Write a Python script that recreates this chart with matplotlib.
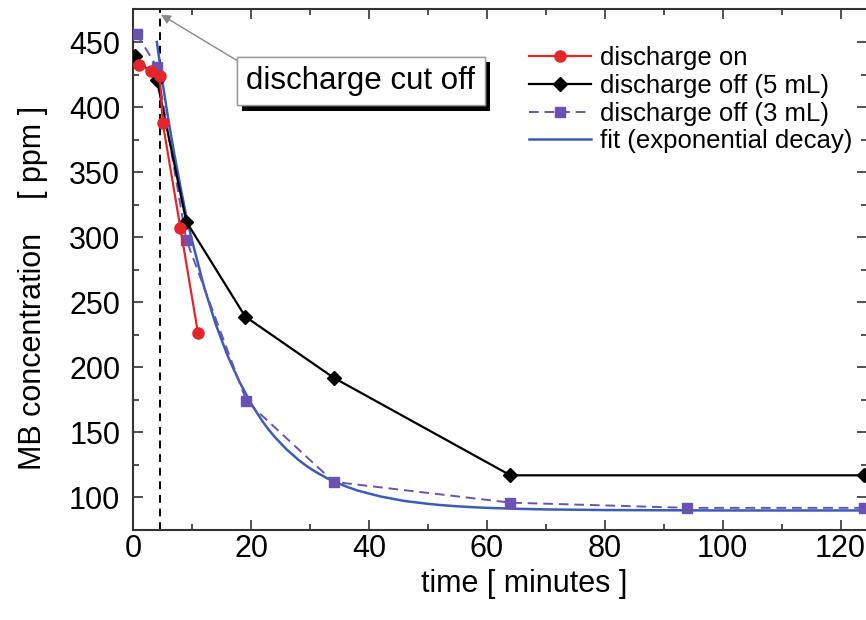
import numpy as np
import matplotlib
matplotlib.use("Agg")
import matplotlib.pyplot as plt
import matplotlib.patheffects as pe
from matplotlib.ticker import MultipleLocator

plt.rcParams["font.family"] = ["Liberation Sans", "DejaVu Sans"]

# dati
t_on = [1, 3, 4.5, 5, 8, 11]
c_on = [432, 428, 424, 388, 307, 226]

t_off5 = [0.3, 4, 9, 19, 34, 64, 124]
c_off5 = [439, 421, 312, 239, 192, 117, 117]

t_off3 = [0.6, 4, 9, 19.2, 34, 64, 94, 124]
c_off3 = [456, 431, 298, 174, 112, 96, 92, 92]

t_fit = [4, 5, 6, 7, 8, 9, 10, 12, 14, 16, 18, 20, 22, 23, 24, 26, 27, 28,
         29, 30, 31, 32, 33, 34, 36, 38, 40, 42, 44, 46, 48, 50, 52, 55,
         58, 60, 65, 70, 80, 100, 124]
c_fit = [450, 418, 389, 363, 339, 316, 297, 262, 233, 209, 189, 172, 158,
         152, 146.5, 137, 133, 129, 125.5, 122.4, 119.5, 117, 114.5, 112.4,
         108.6, 105.4, 103, 100.7, 99, 97.3, 96.2, 95.1, 94.2, 93.2, 92.4,
         92, 91.3, 90.8, 90.3, 90, 90]

T_CUT = 4.5

RED = "#e3262b"
PURPLE = "#6a52b3"
BLUE = "#3c5cb6"

fig = plt.figure(figsize=(8.66, 6.2), dpi=100)
ax = fig.add_axes([0.1532, 0.1452, 0.848, 0.8395])

ax.axvline(T_CUT, color="black", linestyle=(0, (4, 3)), linewidth=1.4, zorder=1)

ax.plot(t_fit, c_fit, color=BLUE, linewidth=1.8, label="fit (exponential decay)", zorder=3)
ax.plot(t_off3, c_off3, color=PURPLE, linestyle=(0, (5, 3)), linewidth=1.4,
        marker="s", markersize=7, label="discharge off (3 mL)", zorder=4)
ax.plot(t_off5, c_off5, color="black", linewidth=1.6,
        marker="D", markersize=7, label="discharge off (5 mL)", zorder=5)
ax.plot(t_on, c_on, color=RED, linewidth=1.6,
        marker="o", markersize=8, label="discharge on", zorder=6)

ax.set_xlim(-0.1, 124.5)
ax.set_ylim(75, 475)

ax.xaxis.set_major_locator(MultipleLocator(20))
ax.xaxis.set_minor_locator(MultipleLocator(10))
ax.yaxis.set_major_locator(MultipleLocator(50))
ax.yaxis.set_minor_locator(MultipleLocator(25))
ax.set_yticks(np.arange(100, 451, 50))

ax.tick_params(which="both", direction="in", top=True, right=True,
               width=1.2, color="#333333")
ax.tick_params(which="major", length=7, labelsize=22)
ax.tick_params(axis="x", which="major", pad=3)
ax.tick_params(axis="y", which="major", pad=9)
ax.tick_params(which="minor", length=4)
for s in ax.spines.values():
    s.set_linewidth(1.5)
    s.set_color("#333333")

ax.set_xlabel("time [ minutes ]", fontsize=22)
ax.set_ylabel("MB concentration    [ ppm ]", fontsize=22)
ax.xaxis.set_label_coords(0.533, -0.075)
ax.yaxis.set_label_coords(-0.115, 0.465)

# box con ombra
txt = ax.annotate("discharge cut off", xy=(4.7, 471), xytext=(38.6, 420),
                  fontsize=22.5, ha="center", va="center", zorder=8,
                  bbox=dict(boxstyle="square,pad=0.3", fc="white", ec="#999999", lw=1),
                  arrowprops=dict(arrowstyle="-|>", color="#888888", lw=1,
                                  mutation_scale=14, shrinkA=0, shrinkB=0,
                                  relpos=(0, 1)))
txt.get_bbox_patch().set_path_effects(
    [pe.withSimplePatchShadow(offset=(4, -4), shadow_rgbFace="black", alpha=1.0),
     pe.Normal()])

handles, labels = ax.get_legend_handles_labels()
order = [3, 2, 1, 0]
ax.legend([handles[i] for i in order], [labels[i] for i in order],
          loc="upper left", bbox_to_anchor=(0.54, 0.93), frameon=False,
          fontsize=18.5, handlelength=2.4, handletextpad=0.35,
          labelspacing=0.15, borderpad=0, borderaxespad=0)

plt.savefig("out.png", dpi=100)
